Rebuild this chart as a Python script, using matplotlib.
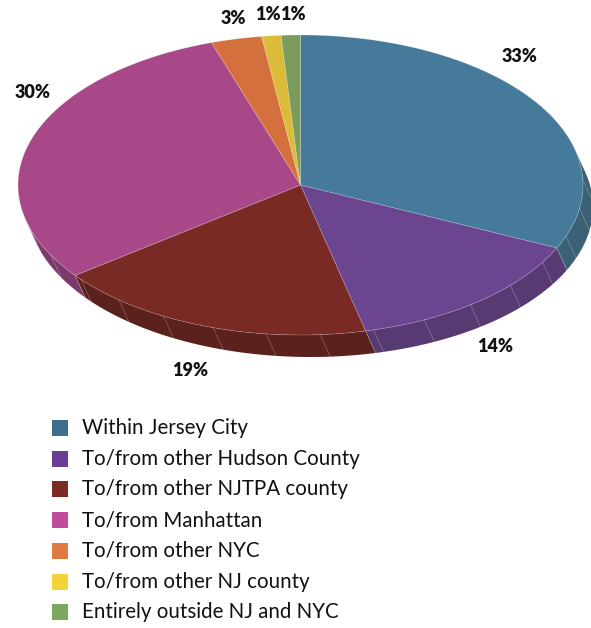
import numpy as np
import matplotlib.pyplot as plt
from matplotlib.patches import Polygon, Rectangle

# trip shares (percent), clockwise from 12 o'clock, as drawn in the slices
categories = ["Within Jersey City", "To/from other Hudson County", "To/from other NJTPA county",
              "To/from Manhattan", "To/from other NYC", "To/from other NJ county",
              "Entirely outside NJ and NYC"]
shares = [31.9, 14.4, 18.4, 30.2, 2.9, 1.1, 1.1]
labels = ["33%", "14%", "19%", "30%", "3%", "1%", "1%"]

top_colors = ["#467a9a", "#6b4590", "#7a2a25", "#a84888", "#d3703e", "#dcbb3a", "#7b9c5c"]
side_colors = ["#3c6177", "#563a71", "#5a211d", "#7c3a69", "#a5582f", "#ad922d", "#607a48"]
legend_colors = ["#3f6d8d", "#6a3d98", "#7b2a26", "#c04c9c", "#e07a45", "#f4d23a", "#7ba85c"]

# layout (pixels)
W, H = 591, 628
cx, cy, rx, ry = 300.5, 185, 282.5, 150
sx, sy = 10, 22  # offset of the bottom rim (oblique extrusion)
label_pos = [(520, 57), (495, 346), (190, 370), (33, 92), (233, 18), (268, 15), (293, 15)]

fig = plt.figure(figsize=(W / 100, H / 100), dpi=100)
ax = fig.add_axes([0, 0, 1, 1])
ax.set_xlim(0, W)
ax.set_ylim(H, 0)
ax.axis("off")


def arc(a0, a1, dx=0, dy=0, n=None):
    n = n or max(4, int(abs(a1 - a0) * 2))
    t = np.radians(np.linspace(a0, a1, n))
    return np.column_stack([cx + rx * np.sin(t) + dx, cy - ry * np.cos(t) + dy])


total = sum(shares)
bounds = np.concatenate([[0], np.cumsum(shares) / total * 360])

# visible part of the rim: where the outline tangent is parallel to the offset
t0 = np.degrees(np.arctan2(rx * sy, ry * sx))
vis0, vis1 = t0, t0 + 180

for i in range(len(shares)):
    a0, a1 = max(bounds[i], vis0), min(bounds[i + 1], vis1)
    if a1 <= a0:
        continue
    pts = np.vstack([arc(a0, a1), arc(a0, a1, sx, sy)[::-1]])
    ax.add_patch(Polygon(pts, closed=True, facecolor=side_colors[i], edgecolor="none"))
    for a in list(np.arange(np.ceil(a0 / 11) * 11, a1, 11)) + [a0]:
        if a <= vis0 + 1:
            continue
        p = arc(a, a, n=2)[0]
        ax.plot([p[0], p[0] + sx], [p[1], p[1] + sy], color="white", lw=0.5, alpha=0.3)

# top faces
for i in range(len(shares)):
    pts = np.vstack([[cx, cy], arc(bounds[i], bounds[i + 1])])
    ax.add_patch(Polygon(pts, closed=True, facecolor=top_colors[i],
                         edgecolor=(1, 1, 1, 0.25), lw=0.5))

for lab, (x, y) in zip(labels, label_pos):
    ax.text(x, y, lab, ha="center", va="center", fontsize=13, fontweight="heavy",
            family="Lato", color="#111111")

# legend
for i, name in enumerate(categories):
    y = 428 + i * 30.7
    ax.add_patch(Rectangle((52, y - 8), 16, 16, facecolor=legend_colors[i], edgecolor="none"))
    ax.text(82, y, name, ha="left", va="center", fontsize=14.8, family="Lato", color="#111111")

fig.savefig("out.png", dpi=100)
